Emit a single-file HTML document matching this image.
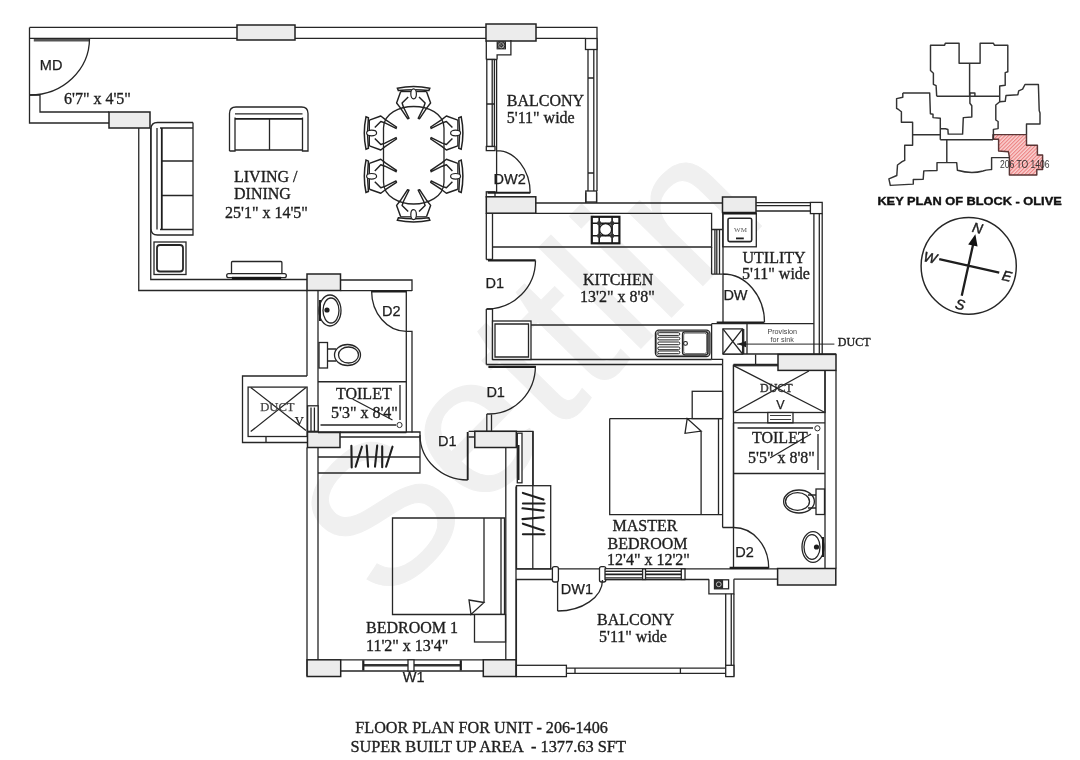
<!DOCTYPE html>
<html><head><meta charset="utf-8"><title>Floor Plan</title>
<style>
html,body{margin:0;padding:0;background:#fff;}
body{width:1080px;height:760px;overflow:hidden;}
svg{display:block;will-change:transform;}
.w{fill:none;stroke:#262626;stroke-width:1.3;}
.g{fill:#ececec;stroke:#222;stroke-width:1.5;}
.f{fill:#fff;stroke:#262626;stroke-width:1.3;}
.k{fill:none;stroke:#1e1e1e;stroke-width:2.4;}
.t{font-family:"Liberation Serif",serif;font-size:16px;fill:#1e1e1e;stroke:#1e1e1e;stroke-width:0.35;}
.s{font-family:"Liberation Sans",sans-serif;font-size:14.5px;fill:#1e1e1e;stroke:#1e1e1e;stroke-width:0.25;}
</style></head>
<body>
<svg width="1080" height="760" viewBox="0 0 1080 760">
<rect x="0" y="0" width="1080" height="760" fill="#fff"/>
<!-- WATERMARK -->
<text x="0" y="0" transform="translate(384.1,608.6) rotate(-45.4)" style="font-family:'Liberation Sans',sans-serif;font-size:198px;fill:#f0f0f0;stroke:#f0f0f0;stroke-width:1">Settlin</text>

<!-- WALLS -->
<g id="walls">
<!-- top wall -->
<path class="w" d="M29.5,27.4H237 M295,27.4H486 M536,27.4H597V49.5 M30,38.4H237 M295,38.4H486 M536,38.4H585.5"/>
<rect class="g" x="237" y="25" width="58" height="15"/>
<rect class="g" x="486" y="24" width="50" height="17"/>
<!-- MD area -->
<path class="w" d="M29.5,27.4V123H109 M30,95H40V112H109"/>
<rect class="g" x="109" y="112" width="41" height="16"/>
<path d="M33.8,40.2H89.5" stroke="#555" stroke-width="2.6"/>
<path class="w" d="M89.5,38.5A59.5,56.5 0 0,1 30,95"/>
<!-- living -->
<path class="w" d="M138.75,128V290.5H307 M150.75,128V279.5H307"/>
<rect class="g" x="307" y="274" width="33.5" height="16.5"/>
<path class="w" d="M340.5,280H412V291 M340.5,290.6H412"/>
<!-- balcony 1 -->
<rect class="f" x="585.5" y="38.5" width="11.5" height="11"/>
<path class="w" d="M588,49.5V191 M593.8,49.5V191 M597,49.5V191 M588,78H593.8 M588,173H593.8"/>
<rect class="f" x="585.8" y="191" width="10.8" height="11"/>
<path class="w" d="M486.3,41V59.5 M497.1,59.5V54.9H510.9V40 M486.3,59.5H497.1"/>
<rect x="496.6" y="41.2" width="9.4" height="8.2" fill="#2a2a2a"/>
<circle cx="501.3" cy="45.3" r="2.6" fill="none" stroke="#aaa" stroke-width="1"/>
<path d="M497.5,42L505,48.6M505,42L497.5,48.6" stroke="#777" stroke-width="0.8"/>
<rect class="f" x="486.8" y="59.5" width="7.6" height="87"/>
<path class="w" d="M492.2,59.5V146.5 M486.8,104H494.4"/>
<rect class="f" x="486.3" y="146.5" width="8.7" height="4.1"/>
<path class="w" d="M496.6,59.5V193 M496.6,150.6A33.6,42.6 0 0,1 530.2,193.2"/>
<rect class="f" x="486.3" y="191.8" width="8.7" height="5.2"/>
<path d="M487.5,192.8H530" stroke="#1e1e1e" stroke-width="2.1"/>
<rect class="g" x="486.3" y="196.8" width="49.5" height="16.4"/>
<path class="w" d="M585.8,192.5V203 M596.6,192.5V203"/>
<!-- kitchen -->
<path class="w" d="M535.8,203H722.5 M535.8,213.4H711.6V247H492.5 M486.3,213.2V259.5 M492.5,213.2V259.5 M486.3,259.5H492.5"/>
<path class="k" d="M488,260.3H535.6" style="stroke-width:2.3"/>
<path class="w" d="M535.5,260.5A48.5,48.5 0 0,1 487,309"/>
<path class="w" d="M486.3,309V364.5 M492.5,309V359.5 M486.3,309H492.5"/>
<path class="w" d="M492.5,359.5H711.6 M531,325H711.6 M711.6,247V274.2 M711.6,323.7V359.5 M711.6,274.2H722.8 M711.6,229.5H722.8 M714.9,229.5V274.2 M716.8,229.5V274.2 M719.5,229.5V274.2"/>
<rect class="f" x="492.5" y="321" width="38.5" height="38.5"/>
<path class="w" d="M495,324H528.5V357H495Z"/>
<!-- stove -->
<rect x="591.8" y="216.8" width="27.6" height="26.5" fill="#fff" stroke="#1a1a1a" stroke-width="2.2"/>
<path d="M599.2,216.8V243.3 M612.1,216.8V243.3 M591.8,223.2H619.4 M591.8,235.8H619.4" stroke="#1a1a1a" stroke-width="1.6"/>
<circle cx="605.6" cy="229.5" r="6" fill="#fff" stroke="#1a1a1a" stroke-width="1.3"/>
<circle cx="599.2" cy="223.2" r="2.2" fill="#333"/><circle cx="612.1" cy="223.2" r="2.2" fill="#333"/>
<circle cx="599.2" cy="235.8" r="2.2" fill="#333"/><circle cx="612.1" cy="235.8" r="2.2" fill="#333"/>
<!-- sink -->
<rect class="f" x="655.4" y="330.1" width="54.5" height="26.5" rx="3.5"/>
<rect x="656.6" y="331.3" width="52.1" height="24.1" rx="2.8" fill="none" stroke="#444" stroke-width="0.8"/>
<rect class="f" x="682.5" y="331.9" width="25.3" height="22.9" rx="2.5"/>
<rect x="683.7" y="333.1" width="22.9" height="20.5" rx="2" fill="none" stroke="#444" stroke-width="0.8"/>
<g fill="#fff" stroke="#262626" stroke-width="1">
<rect x="657.8" y="332.7" width="22" height="2.7" rx="1.3"/><rect x="657.8" y="337.2" width="22" height="2.7" rx="1.3"/>
<rect x="657.8" y="342" width="22" height="2.7" rx="1.3"/><rect x="657.8" y="347" width="22" height="2.7" rx="1.3"/>
<rect x="657.8" y="351" width="22" height="2.7" rx="1.3"/></g>
<circle cx="685.5" cy="343.4" r="1.9" fill="#fff" stroke="#1e1e1e" stroke-width="1.1"/>
<!-- kitchen bottom / master top wall -->
<path class="w" d="M486.3,364.5H722.6"/>
<path class="k" d="M488.4,366.8H535.7" style="stroke-width:2.2"/>
<path class="w" d="M535.4,366A46,48 0 0,1 489.6,414 M486.8,414V431.3 M491.5,414V431.3 M486.8,414H491.5"/>
<!-- utility -->
<rect class="g" x="722.5" y="197" width="33.5" height="15.5"/>
<path class="w" d="M756,202.6H810.4 M756,205.6H810.4 M756,211H810.4"/>
<rect class="f" x="810.4" y="202.4" width="11.8" height="11.2"/>
<path class="w" d="M813.9,213.6V354 M819.3,213.6V354 M822.2,213.6V354"/>
<rect class="f" x="722.8" y="213.4" width="33.5" height="33.4"/>
<rect x="728" y="218.3" width="23.7" height="23.3" rx="1.5" fill="#fff" stroke="#262626" stroke-width="1.6"/>
<path d="M722.8,213.6H756.3" stroke="#1a1a1a" stroke-width="1.8"/>
<path class="w" d="M723,212.5V274"/>
<path class="w" d="M723,274V322.5 M723,274A41.5,48.5 0 0,1 764.5,322.5"/>
<path class="k" d="M716.7,322.5H764" style="stroke-width:1.8"/>
<path class="w" d="M711.6,323.7H813.9 M722.9,354H836 M747,323.7V354 M743.7,328.9V354 M711.6,359.3H722.6V364.4"/>
<rect class="f" x="722.9" y="328.9" width="19.7" height="25.1"/>
<path class="w" d="M722.9,328.9L742.6,354M742.6,328.9L722.9,354"/>
<path class="w" d="M737,344.1H834.4" style="stroke-width:1"/>
<path d="M737.5,344.1L746,341V347.2Z" fill="#1e1e1e"/>
<!-- toilet 1 -->
<path class="w" d="M307,290.5V376 M318,290.5V432.5 M406.3,291V432.5 M406.3,331.3H412V432.5"/>
<path class="k" d="M371.6,291.4H406.3" style="stroke-width:2"/>
<path class="w" d="M371.6,291A34.7,40.3 0 0,0 406.3,331.3"/>
<path class="w" d="M318,381.75H406.3 M320.5,425H396 M400,385V420 M352.5,399L392.5,420"/>
<circle cx="399.5" cy="425" r="2.6" fill="none" stroke="#2e2e2e" stroke-width="1"/>
<!-- duct left -->
<path class="w" d="M307,376H242.5V442.5H309 M266,436V442.5"/>
<rect class="f" x="248.1" y="387.1" width="59" height="49.4"/>
<path class="w" d="M250.7,387.4L306,430.5 M306,387.4L250.7,431.6"/>
<rect class="f" x="307.6" y="405.8" width="10.5" height="25.5"/>
<path class="w" d="M311,407.5V431 M314.4,407.5V431"/>
<!-- toilet1 bottom + bedroom 1 -->
<rect class="g" x="307.5" y="432" width="32.5" height="15.5"/>
<path class="w" d="M318,432.5H406.3 M340,432H420V473H318 M340,437H420 M318,457H420"/>
<path class="w" d="M307,447.5V676 M318,447.5V660"/>
<path class="w" d="M420,435A47.7,45 0 0,0 467.7,480 M468.6,437H474.4"/>
<path d="M467.7,432V480" stroke="#222" stroke-width="1.9"/>
<path class="w" d="M468.6,431.3H533.5 M505.8,447.5V660 M516,486.6V676 M533.1,431.3V486.6"/>
<rect class="g" x="474.8" y="431.3" width="41.5" height="16.2"/>
<rect class="f" x="517.3" y="433.2" width="4.7" height="49.6"/>
<path d="M518.6,445V480" stroke="#1e1e1e" stroke-width="1.8"/>
<!-- bed 1 -->
<path class="w" d="M392.5,518H504.5V614.5H392.5Z M501,518V614.5 M484,518V602.5"/>
<path class="w" d="M469,600L484,602.5L471,614.5Z"/>
<rect class="f" x="474.5" y="614.5" width="31" height="27.5"/>
<!-- bottom wall bedroom 1 -->
<rect class="g" x="307.1" y="659.8" width="33.6" height="16.7"/>
<path class="w" d="M340.7,659.8H483.3 M340.7,671H483.3"/>
<path d="M364,665.3H460" stroke="#333" stroke-width="2.4"/>
<path d="M363.3,660.3V670.6 M460.8,660.3V670.6" stroke="#1e1e1e" stroke-width="2.2"/>
<rect class="f" x="408" y="659.8" width="6" height="11.2"/>
<rect class="g" x="483.3" y="659.8" width="32.7" height="16.7"/>
<!-- master wardrobe -->
<rect class="f" x="516.5" y="485.7" width="34.2" height="83.2"/>
<path class="w" d="M532.8,431.3V568.9"/>
<!-- master bedroom -->
<path class="w" d="M722.6,364.4V527.5 M733.5,364.4V527.5"/>
<rect class="f" x="692.2" y="391.3" width="30.4" height="27.3"/>
<path class="w" d="M609.7,418.6H722.6 M609.7,418.6V514.7H722.6 M687.2,418.6L685,433.3L701.1,431.1Z M701.1,431.1V514.7 M718.5,418.6V514.7"/>
<!-- master bottom wall -->
<path class="w" d="M516,568.9H777.6 M516,579.5H555 M606,579.5H709 M733.8,579.2H777.6"/>
<rect class="f" x="552.4" y="566.6" width="6" height="15.4" rx="2"/>
<rect class="f" x="599.5" y="566.6" width="6.3" height="15.4" rx="2"/>
<rect class="f" x="605" y="568.9" width="79.5" height="10.6"/>
<rect x="606" y="569" width="78.5" height="2.4" fill="#cfcfcf"/>
<path class="w" d="M605,571.4H684.5 M605,577.8H684.5"/>
<path d="M605,574.3H684.5" stroke="#1e1e1e" stroke-width="1.8"/>
<rect class="f" x="642.6" y="568.9" width="2.9" height="10.6"/>
<rect class="f" x="681.3" y="568.9" width="3.7" height="10.6"/>
<path class="w" d="M557.6,582V611 M557.6,611A45,31 0 0,0 602.5,580"/>
<path class="w" d="M708.9,579.2V593.8H733.9V579.2"/>
<rect class="f" x="714.5" y="579.8" width="14.1" height="9"/>
<rect x="714.5" y="579.8" width="8.6" height="9" fill="#2a2a2a"/>
<circle cx="718.8" cy="584.3" r="2.4" fill="none" stroke="#bbb" stroke-width="1"/>
<!-- balcony 2 -->
<path class="w" d="M516.4,579.5V676.6 M725.7,593.8V665.3 M731.25,593.8V665.3 M733.9,593.8V676.6"/>
<rect class="f" x="516.4" y="665.3" width="50" height="11.3"/>
<path class="w" d="M566.4,668.1H725.7 M566.4,673.4H725.7 M575,668.1V673.4 M680.4,668.1V673.4"/>
<rect class="f" x="725.7" y="665.3" width="8.2" height="11.3"/>
<!-- toilet 2 -->
<rect class="f" x="733.5" y="365.7" width="91.5" height="46.8"/>
<path class="w" d="M733.5,365.7L825,412.5 M808.9,371L733.5,412.5"/>
<rect class="g" x="778" y="354.4" width="58" height="16"/>
<path class="w" d="M825,370.4V568.5 M836,370.4V568.5 M733.5,364.4H778 M755.6,354.4V364.4"/>
<rect class="f" x="767.8" y="412.5" width="25.2" height="10.3"/>
<path class="w" d="M770,415.5H791 M770,419.5H791" style="stroke-width:0.9"/>
<path class="w" d="M733.5,422.8H825 M733.5,473.5H825 M737.6,428H813 M818,434V470 M770,458L811,434"/>
<circle cx="817.4" cy="428.3" r="2.6" fill="none" stroke="#2e2e2e" stroke-width="1"/>
<path class="w" d="M733.5,422.8V568"/>
<path class="w" d="M722.6,527.5H733.7 M733.7,527.5A35,40.4 0 0,1 768.7,567.9"/>
<path class="k" d="M729.6,567.9H768.7" style="stroke-width:2.2"/>
<rect class="g" x="777.6" y="568.5" width="58.2" height="16.5"/>
</g>

<!-- FURNITURE -->
<g id="furn">
<!-- 3 seater sofa -->
<path class="w" d="M193,122.5H157.5Q151,122.5 151,129V228.5Q151,235 157.5,235H193V229.5H160 M193,122.5V128H160 M157,128V229.5 M193,128V229.5 M162,161H193 M162,195.5H193"/>
<path d="M161.8,128V229.5" stroke="#1e1e1e" stroke-width="1.8"/>
<!-- loveseat -->
<path class="w" d="M229.5,151V113.5Q229.5,107 236,107H301.5Q308,107 308,113.5V151H302.5V117.5 M229.5,151H235V117.5 M235,113.8H302.5 M235,150H302.5 M269.5,118.8V150"/>
<path d="M235,118.8H302.5" stroke="#1e1e1e" stroke-width="1.8"/>
<!-- side table -->
<rect class="f" x="154" y="242" width="32" height="32.5"/>
<rect class="w" x="157" y="245" width="26" height="26.5" rx="3" style="stroke-width:1.8"/>
<!-- tv unit -->
<rect class="f" x="231.5" y="261.5" width="50.4" height="12.9" rx="1"/>
<rect class="f" x="226.7" y="273.7" width="59.6" height="3.9" rx="1.9"/>
<rect x="231.9" y="276.8" width="49.2" height="2.6" fill="#151515"/>
<!-- dining table -->
<path class="w" d="M383.5,128C383.5,113 400,106.5 413.7,106.5C427.5,106.5 444,113 444,128V182C444,197 427.5,204 413.7,204C400,204 383.5,197 383.5,182Z"/>
<defs>
<g id="chair">
<path d="M-16.2,1.8Q0,-1.6 16.2,1.8L15.2,4.2Q0,2.4 -15.2,4.2Z" fill="#fff" stroke="#222" stroke-width="1.5"/>
<path d="M-13,5.2H13" fill="none" stroke="#222" stroke-width="1.2"/>
<ellipse cx="0" cy="7.4" rx="2.8" ry="5" fill="#fff" stroke="#222" stroke-width="1.2"/>
<path d="M-12.9,5.2L-17,16.6L-13.4,21.2L-6,32.3L-4.6,31.8L-10.1,20.8L-11.5,16.6L-5.4,10.6 M12.9,5.2L17,16.6L13.4,21.2L6,32.3L4.6,31.8L10.1,20.8L11.5,16.6L5.4,10.6" fill="none" stroke="#222" stroke-width="1.45" stroke-linejoin="round"/>
</g>
</defs>
<use href="#chair" transform="translate(413.6,86.4)"/>
<use href="#chair" transform="translate(413.6,222) rotate(180)"/>
<use href="#chair" transform="translate(364.2,133) rotate(-90)"/>
<use href="#chair" transform="translate(364.2,176.3) rotate(-90)"/>
<use href="#chair" transform="translate(463,133) rotate(90)"/>
<use href="#chair" transform="translate(463,176.3) rotate(90)"/>
<!-- toilet1 fixtures -->
<ellipse class="w" cx="330" cy="310.5" rx="11" ry="15.5"/>
<ellipse class="w" cx="331" cy="310.5" rx="8" ry="12.5"/>
<circle cx="327" cy="310" r="2.6" fill="#1e1e1e"/>
<path d="M320,300V321" stroke="#1e1e1e" stroke-width="2"/>
<rect class="f" x="319" y="342.5" width="8.5" height="25.5"/>
<ellipse class="w" cx="347.5" cy="355" rx="13" ry="10.5"/>
<ellipse class="w" cx="348.5" cy="355" rx="10" ry="8"/>
<path class="w" d="M327.5,349H336 M327.5,361H336"/>
<!-- toilet2 fixtures -->
<rect class="f" x="816" y="489" width="8.5" height="25.5"/>
<ellipse class="w" cx="799" cy="501.5" rx="15.4" ry="11.5"/>
<ellipse class="w" cx="797.5" cy="501.5" rx="12" ry="8.8"/>
<path class="w" d="M816,495H808 M816,508H808"/>
<ellipse class="w" cx="813" cy="547" rx="11" ry="15.4"/>
<ellipse class="w" cx="812" cy="547" rx="8" ry="12.4"/>
<circle cx="816.5" cy="547" r="2.6" fill="#1e1e1e"/>
<path d="M823,537V557" stroke="#1e1e1e" stroke-width="2"/>
<!-- wardrobe marks bedroom1 -->
<path d="M351.4,445.8L351.7,467.5 M361.9,446.7L355.6,466.7 M366.7,445.6L368.1,466.7 M377.2,445.6L375,466.7 M382.2,446.4L382.2,467.2 M392.5,446.7L386.1,466.7" stroke="#1e1e1e" stroke-width="2.1" stroke-linecap="round" fill="none"/>
<!-- wardrobe marks master -->
<path d="M522.9,492.9L543.4,499.6 M522.9,503.5L544.6,503.5 M522.5,508.3L543.4,510.6 M522.5,519.1L543.8,517.3 M522.9,523.7L543.4,530.4 M522.9,534.3L544.6,534.3" stroke="#1e1e1e" stroke-width="2.1" stroke-linecap="round" fill="none"/>
</g>

<!-- TEXT -->
<g id="txt">
<text class="t" x="64" y="103.5">6'7" x 4'5"</text>
<text class="t" x="234" y="182">LIVING /</text>
<text class="t" x="234" y="199">DINING</text>
<text class="t" x="225" y="217.5">25'1" x 14'5"</text>
<text class="t" x="506.8" y="106.3">BALCONY</text>
<text class="t" x="506.8" y="122.6">5'11" wide</text>
<text class="t" x="583" y="285">KITCHEN</text>
<text class="t" x="580" y="301.75">13'2" x 8'8"</text>
<text class="t" x="742.5" y="262.5">UTILITY</text>
<text class="t" x="742" y="279">5'11" wide</text>
<text class="t" x="336" y="398.75">TOILET</text>
<text class="t" x="331" y="418">5'3" x 8'4"</text>
<text class="t" x="752" y="443.3">TOILET</text>
<text class="t" x="748" y="463">5'5" x 8'8"</text>
<text class="t" x="612.5" y="531">MASTER</text>
<text class="t" x="607.5" y="548.75">BEDROOM</text>
<text class="t" x="607" y="565">12'4" x 12'2"</text>
<text class="t" x="366" y="632.5">BEDROOM 1</text>
<text class="t" x="366" y="651">11'2" x 13'4"</text>
<text class="t" x="597" y="625">BALCONY</text>
<text class="t" x="599" y="641.75">5'11" wide</text>
<text class="t" x="355.3" y="732.8" textLength="252.5" lengthAdjust="spacingAndGlyphs">FLOOR PLAN FOR UNIT - 206-1406</text>
<text class="t" x="350.4" y="751.5" style="white-space:pre" textLength="275.5" lengthAdjust="spacingAndGlyphs">SUPER BUILT UP AREA  - 1377.63 SFT</text>
<text class="s" x="39.8" y="69.9">MD</text>
<text class="s" x="493.5" y="183.75">DW2</text>
<text class="s" x="485.5" y="287.8">D1</text>
<text class="s" x="486.4" y="396.6">D1</text>
<text class="s" x="438.1" y="445.8">D1</text>
<text class="s" x="382.1" y="316">D2</text>
<text class="s" x="723.4" y="299.9">DW</text>
<text class="s" x="560.8" y="593.75">DW1</text>
<text class="s" x="735.2" y="557.4">D2</text>
<text class="s" x="402.8" y="682.2">W1</text>
<text x="782.2" y="334" text-anchor="middle" style="font-family:'Liberation Sans',sans-serif;font-size:7.2px;fill:#444">Provision</text>
<text x="782.2" y="341.9" text-anchor="middle" style="font-family:'Liberation Sans',sans-serif;font-size:7.2px;fill:#444">for sink</text>
<text class="t" x="837.8" y="346.4" style="font-size:12px">DUCT</text>
<text class="t" x="760" y="391.9" style="font-size:12px;fill:#444">DUCT</text>
<text class="s" x="776.3" y="408.9" style="font-size:12.5px">V</text>
<text class="t" x="260.2" y="410.5" style="font-size:12.6px;fill:#444;stroke:#444;stroke-width:0.25">DUCT</text>
<text class="t" x="294.8" y="424.7" style="font-size:12.6px;stroke-width:0.25">V</text>
<text x="740.5" y="232.3" text-anchor="middle" style="font-family:'Liberation Serif',serif;font-size:7px;fill:#555">WM</text>
<path d="M736,238.4H743.8" stroke="#1e1e1e" stroke-width="1.8"/>
</g>

<!-- KEY PLAN -->
<defs>
<pattern id="hatch" patternUnits="userSpaceOnUse" width="2.6" height="2.6" patternTransform="rotate(45)">
<rect width="2.6" height="2.6" fill="#f9c9c9"/>
<rect width="1.1" height="2.6" fill="#e86a6a"/>
</pattern>
</defs>
<g id="key" fill="none" stroke="#333" stroke-width="1.45" stroke-linejoin="round">
<path d="M993,134.6H1026.5V145.3H1037.4V155H1042.6V169.5H1036.8V175H1009.4V157L1008.4,151.7L998.6,151V139.2H993Z" fill="url(#hatch)" fill-opacity="0.85" stroke="#5a3535"/>
<path d="M936.7,96.2L936.1,85.7L933.4,84.3V73.2L930.5,70.5V45.3H944.6L945.3,43.2H959.1V63.3H980.1V43.2H993.3L994.6,45.3H1007.8V71.8L1005.2,72.6V85.2L999.7,86V101.8L995.8,105V120L998.1,121.5V128.6L993.4,129.4V139.2"/>
<path d="M969.6,63.3V96.2 M936.7,96.2H999.7 M969.6,92.9H974.9V96.2"/>
<path d="M999.7,101.8L1005.2,101.3L1006,95.5L1017.9,94.7L1018.7,90.8L1022.6,89.2L1025,84.5H1038.4L1039.2,110.5L1040,112.9V123.9H1026.5V134.6"/>
<path d="M902.8,92.9H929.7L930.4,113.7L933,114.3V117.6L940.3,118.3V139.7 M902.8,92.9V97.2L896.6,98.6V108.4L898.8,109.7L901.4,111.7V122.2H912.6V145.3H904.7V160.4L902.1,161.7L897.5,165L896.8,175.5L888.9,178.8L890.3,185.4L913.3,184.1V179.5L923.2,179.2L923.8,170.9L937,170.5V162.6H956.7L957.4,170.3C966,172.8 975,173.2 983,171 C986,170 989,169.8 991.6,169.5V157.6H1009.4"/>
<path d="M940.3,128.8H945.5L947.9,129.5L948.2,134.1H962.6L963.3,117.6L971.8,117V105.8L969.9,103.2V92.6"/>
<path d="M912.6,134.7H940.3 M940.3,139.7H993 M946.8,139.7V162.6"/>
</g>
<text x="999.9" y="168.2" textLength="49.6" lengthAdjust="spacingAndGlyphs" style="font-family:'Liberation Sans',sans-serif;font-size:11px;fill:#222;opacity:0.9">206 TO 1406</text>
<text x="877.4" y="205.2" textLength="184.3" lengthAdjust="spacingAndGlyphs" style="font-family:'Liberation Sans',sans-serif;font-weight:bold;font-size:10px;fill:#111;stroke:#111;stroke-width:0.35">KEY PLAN OF BLOCK - OLIVE</text>

<!-- COMPASS -->
<g id="compass">
<ellipse cx="968.7" cy="265.9" rx="47.6" ry="48.3" fill="none" stroke="#262626" stroke-width="1.45"/>
<g transform="rotate(12.5 968.4 265.7)">
<path d="M968.4,296.5V238 M938.5,265.7H1000" stroke="#1e1e1e" stroke-width="2.3" fill="none"/>
<path d="M968.4,233.5L963.6,245L973.2,245Z" fill="#111"/>
</g>
<g style="font-family:'Liberation Sans',sans-serif;font-style:italic;font-size:14px;fill:#1e1e1e;stroke:#1e1e1e;stroke-width:0.45">
<text x="977.6" y="233" text-anchor="middle" transform="rotate(12.5 977.6 228)">N</text>
<text x="930.2" y="262.5" text-anchor="middle" transform="rotate(12.5 930.2 257.5)">W</text>
<text x="1007" y="281" text-anchor="middle" transform="rotate(12.5 1007 276)">E</text>
<text x="960.2" y="309.5" text-anchor="middle" transform="rotate(12.5 960.2 304.5)">S</text>
</g>
</g>
</svg>
</body></html>
